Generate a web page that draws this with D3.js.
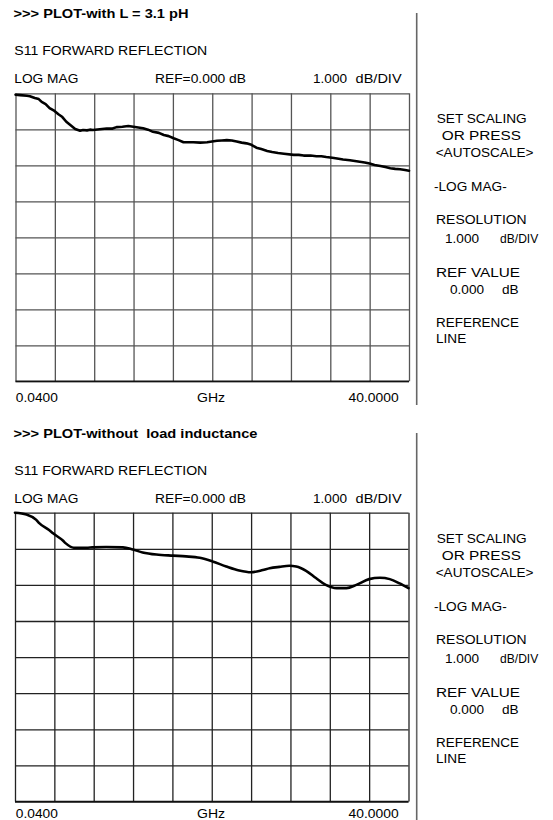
<!DOCTYPE html>
<html><head><meta charset="utf-8">
<script src="https://cdn.jsdelivr.net/npm/d3@7/dist/d3.min.js"></script>
<style>
html,body{margin:0;padding:0;background:#fff;}
svg{display:block;}
text{font-family:Arial,"Liberation Sans",sans-serif;fill:#000;white-space:pre;}
</style></head><body>
<script>
// ---- data ----
const titles = [">>> PLOT-with L = 3.1 pH", ">>> PLOT-without  load inductance"];
const freqStart = 0.04, freqStop = 40.0;
const refValue = 0, dbPerDiv = 1, nDivY = 8, nDivX = 10;
const axisLabels = ["0.0400", "GHz", "40.0000"];
const menuLines = ["SET SCALING", " OR PRESS", "<AUTOSCALE>", "-LOG MAG-", "RESOLUTION", "REF VALUE", "REFERENCE", "LINE"];

// trace with L = 3.1 pH (GHz, dB)
const freqTop = [0.04,0.5,1.2,1.5,2.0,2.4,2.7,3.1,3.5,4.0,4.4,4.8,5.2,5.7,6.1,6.6,6.9,7.3,7.6,7.9,8.6,9.3,9.9,10.3,10.9,11.5,12.0,12.5,13.0,13.5,14.0,14.6,15.1,15.6,16.1,16.6,17.1,17.6,18.1,18.8,19.5,20.0,20.5,21.0,21.5,22.0,22.5,23.0,23.5,24.0,24.5,25.0,25.6,26.1,26.7,27.3,28.3,28.8,29.3,30.0,30.6,31.1,31.6,32.2,32.7,33.3,34.0,34.5,35.0,35.5,36.0,36.5,37.1,37.6,38.1,38.6,39.1,39.6,40.0];
const dbTop   = [-0.04,-0.05,-0.07,-0.08,-0.13,-0.16,-0.24,-0.30,-0.41,-0.49,-0.58,-0.66,-0.79,-0.90,-0.99,-1.04,-1.02,-1.03,-1.01,-1.02,-1.00,-0.98,-0.98,-0.94,-0.93,-0.91,-0.93,-0.95,-0.97,-1.01,-1.07,-1.10,-1.16,-1.19,-1.25,-1.30,-1.36,-1.36,-1.36,-1.37,-1.36,-1.34,-1.32,-1.31,-1.30,-1.31,-1.34,-1.37,-1.39,-1.43,-1.51,-1.55,-1.60,-1.63,-1.66,-1.68,-1.71,-1.71,-1.73,-1.73,-1.75,-1.75,-1.77,-1.79,-1.81,-1.84,-1.86,-1.88,-1.90,-1.92,-1.95,-1.99,-2.02,-2.05,-2.08,-2.10,-2.11,-2.13,-2.15];

// trace without load inductance (GHz, dB)
const freqBot = [0.04,1.2,2.2,2.5,3.5,3.9,4.9,5.2,6.0,7.3,7.9,9.3,11.0,12.0,13.0,14.4,16.1,17.4,18.8,20.1,21.5,22.8,24.0,25.2,25.9,26.9,27.9,28.6,29.6,30.6,31.6,32.7,33.7,34.7,36.0,37.1,38.1,39.1,40.0];
const dbBot   = [0.00,-0.05,-0.20,-0.29,-0.48,-0.57,-0.77,-0.85,-0.97,-0.97,-0.96,-0.95,-0.96,-1.02,-1.10,-1.16,-1.19,-1.21,-1.25,-1.35,-1.49,-1.60,-1.65,-1.59,-1.54,-1.50,-1.47,-1.49,-1.61,-1.81,-2.00,-2.09,-2.09,-2.00,-1.84,-1.80,-1.84,-1.96,-2.09];

const panels = [
  {off: 0,   x0: 15.5, x1: 409,   y0: 93.3,  y1: 381.3, freq: freqTop, db: dbTop, smooth: false, grid: "#555", lblY: 401.5},
  {off: 420, x0: 15,   x1: 408.5, y0: 512.7, y1: 801.5, freq: freqBot, db: dbBot, smooth: true,  grid: "#222", lblY: 818}
];

const W = 553, H = 820;
const svg = d3.select("body").append("svg").attr("width", W).attr("height", H);
const FS = 13.6;

function txt(g, s, x, y, opts = {}) {
  const t = g.append("text").attr("x", x).attr("y", y).attr("font-size", opts.fs || FS).text(s);
  if (opts.bold) t.attr("font-weight", "bold");
  if (opts.len) t.attr("textLength", opts.len).attr("lengthAdjust", "spacingAndGlyphs");
  if (opts.anchor) t.attr("text-anchor", opts.anchor);
  return t;
}

panels.forEach((p, i) => {
  const o = p.off;
  const g = svg.append("g");
  const x = d3.scaleLinear().domain([freqStart, freqStop]).range([p.x0, p.x1]);
  const y = d3.scaleLinear().domain([refValue - nDivY * dbPerDiv, refValue]).range([p.y1, p.y0]);

  // header text
  txt(g, titles[i], 13.5, 18.3 + o, {bold: true, fs: 12.5, len: i === 0 ? 175 : 244});
  txt(g, "S11 FORWARD REFLECTION", 14.3, 55 + o, {len: 193});
  txt(g, "LOG MAG", 14.3, 82.7 + o, {len: 64});
  txt(g, "REF=0.000 dB", 155, 82.7 + o, {len: 91});
  txt(g, "1.000", 313, 82.7 + o);
  txt(g, "dB/DIV", 355.6, 82.7 + o, {len: 46});

  // grid via axes
  const xTicks = d3.range(nDivX + 1).map(k => freqStart + k * (freqStop - freqStart) / nDivX);
  const yTicks = d3.range(nDivY + 1).map(k => refValue - k * dbPerDiv);
  const gx = g.append("g").attr("transform", `translate(0,${p.y1})`)
    .call(d3.axisBottom(x).tickValues(xTicks).tickSize(-(p.y1 - p.y0)).tickFormat(""));
  const gy = g.append("g").attr("transform", `translate(${p.x0},0)`)
    .call(d3.axisLeft(y).tickValues(yTicks).tickSize(-(p.x1 - p.x0)).tickFormat(""));
  [gx, gy].forEach(a => {
    a.select(".domain").remove();
    a.selectAll("line").attr("stroke", p.grid).attr("stroke-width", 1.3);
  });
  g.append("line").attr("x1", p.x0).attr("x2", p.x1).attr("y1", p.y1).attr("y2", p.y1)
    .attr("stroke", "#111").attr("stroke-width", 1.5);

  // trace
  const line = d3.line().x(d => x(d[0])).y(d => y(d[1]))
    .curve(p.smooth ? d3.curveMonotoneX : d3.curveLinear);
  g.append("path").datum(p.freq.map((f, k) => [f, p.db[k]]))
    .attr("d", line).attr("fill", "none").attr("stroke", "#000")
    .attr("stroke-width", p.smooth ? 2.6 : 2.6).attr("stroke-linejoin", "round").attr("stroke-linecap", "round");

  // axis labels
  txt(g, axisLabels[0], 15.8, p.lblY, {len: 42});
  txt(g, axisLabels[1], 197, p.lblY, {len: 28});
  txt(g, axisLabels[2], 348.6, p.lblY, {len: 50});

  // separator
  g.append("line").attr("x1", 416.7).attr("x2", 416.7)
    .attr("y1", 13 + o).attr("y2", i === 0 ? 405 : 825)
    .attr("stroke", "#666").attr("stroke-width", 1.6);

  // menu panel
  txt(g, menuLines[0], 436.7, 123 + o, {len: 90});
  txt(g, menuLines[1], 437.5, 140 + o, {len: 83.5});
  txt(g, menuLines[2], 435.7, 157 + o, {len: 97.7});
  txt(g, menuLines[3], 434, 191 + o, {len: 72.7});
  txt(g, menuLines[4], 436, 224 + o, {len: 90.7});
  txt(g, "1.000", 445, 243 + o);
  txt(g, "dB/DIV", 500, 243 + o, {len: 38.3});
  txt(g, menuLines[5], 436, 277 + o, {len: 84});
  txt(g, "0.000", 450, 294 + o);
  txt(g, "dB", 502, 294 + o);
  txt(g, menuLines[6], 436, 327 + o, {len: 83});
  txt(g, menuLines[7], 436, 343 + o);
});
</script>
</body></html>
